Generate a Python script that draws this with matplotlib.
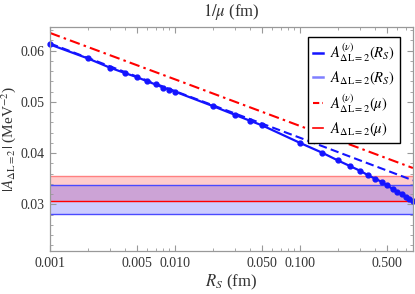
"""
|A_{dL=2}| versus the short-distance cutoff R_S (and 1/mu on the top axis),
with the mu-scheme reference bands.
"""
import numpy as np, matplotlib
matplotlib.use("Agg")
import matplotlib.pyplot as plt
from matplotlib.lines import Line2D
from matplotlib.ticker import FixedLocator, NullFormatter

plt.rcParams["font.family"] = ["Liberation Serif", "DejaVu Serif"]
plt.rcParams["mathtext.fontset"] = "stix"

BLUE, LBLUE, RED = "#1414ff", "#7f7fff", "#ff0000"

# A^(nu)(R_S): computed points (fm, MeV^-2)
rs_points = [0.001, 0.002, 0.003, 0.004, 0.005, 0.006, 0.007, 0.008, 0.009, 0.010,
             0.02, 0.03, 0.04, 0.05, 0.10, 0.15, 0.20, 0.25, 0.30, 0.35, 0.40,
             0.45, 0.50, 0.55, 0.60, 0.65, 0.70, 0.75, 0.80]
a_nu_rs = [0.0612, 0.0585, 0.0567, 0.0556, 0.0548, 0.0540, 0.0534, 0.0528, 0.0524, 0.0520,
           0.0492, 0.0475, 0.0463, 0.0454, 0.0420, 0.0401, 0.0386, 0.0375, 0.0366, 0.0357,
           0.0350, 0.0344, 0.0337, 0.0330, 0.0325, 0.0320, 0.0315, 0.0311, 0.0307]

# A(R_S) without the nu correction (dashed)
rs_line = [0.001, 0.01, 0.1, 0.8]
a_rs = [0.0614, 0.0521, 0.0430, 0.0347]

# A^(nu)(mu) (dash-dot)
mu_line = [0.001, 0.01, 0.1, 0.8]
a_nu_mu = [0.06345, 0.0544, 0.0453, 0.0371]

# bands (MeV^-2)
band_red = (0.0307, 0.0355)
band_blue = (0.02805, 0.0338)

fig = plt.figure(figsize=(4.15, 2.94), dpi=100)
ax = fig.add_axes([0.1205, 0.146, 0.8745, 0.762])
ax.set_xscale("log")
ax.set_xlim(0.001, 0.8)
ax.set_ylim(0.0209, 0.0646)

ax.axhspan(*band_red, color=RED, alpha=0.2, lw=0)
ax.axhspan(*band_blue, color="#0000ff", alpha=0.2, lw=0)
ax.axhline(band_red[1], color="#ff8080", lw=1.0)
ax.axhline(band_red[0], color=RED, lw=1.0)
ax.axhline(band_blue[0], color="#4a4aff", lw=1.0)
ax.axhline(band_blue[1], color="#4a4aff", lw=1.0)

ax.plot(mu_line, a_nu_mu, color=RED, lw=1.5, dashes=(5, 2, 1.2, 2))
ax.plot(rs_line, a_rs, color=BLUE, lw=1.5, dashes=(4, 2))
ax.plot(rs_points, a_nu_rs, color=BLUE, lw=1.6, marker="o", ms=3.5, clip_on=False)

# ticks
majors = [0.001, 0.005, 0.01, 0.05, 0.1, 0.5]
minors = [m * 10.0**e for e in (-3, -2, -1) for m in range(2, 10)
          if m != 5 and m * 10.0**e <= 0.8]
ax.xaxis.set_major_locator(FixedLocator(majors))
ax.xaxis.set_minor_locator(FixedLocator(minors))
ax.set_xticklabels(["0.001", "0.005", "0.010", "0.050", "0.100", "0.500"])
ax.xaxis.set_minor_formatter(NullFormatter())
ax.set_yticks([0.03, 0.04, 0.05, 0.06])
ax.set_yticklabels(["0.03", "0.04", "0.05", "0.06"])
ax.yaxis.set_minor_locator(FixedLocator(np.arange(0.022, 0.0646, 0.002)))
ax.tick_params(which="both", direction="in", top=True, right=True,
               color="#999999", labelsize=10, labelcolor="#333333", pad=4)
ax.tick_params(which="major", length=4.5, width=0.8)
ax.tick_params(which="minor", length=2.5, width=0.6)
for s in ax.spines.values():
    s.set_color("#999999")
    s.set_linewidth(0.9)

ax.set_xlabel(r"$R_S$ (fm)", fontsize=12, color="#333333", labelpad=2)
ax.set_ylabel(r"$|A_{\Delta\mathrm{L}=2}|$ (MeV$^{-2}$)", fontsize=11,
              color="#333333")
ax.yaxis.set_label_coords(-0.088, 0.5)
ax.set_title(r"$1/\mu$ (fm)", fontsize=12, color="#333333", pad=8)

handles = [Line2D([], [], color=BLUE, lw=1.8),
           Line2D([], [], color=LBLUE, lw=1.8),
           Line2D([], [], color=RED, lw=1.5, dashes=(3, 1.5, 1, 1.5)),
           Line2D([], [], color=RED, lw=1.2)]
labels = [r"$A^{(\nu)}_{\Delta\mathrm{L}=2}(R_S)$",
          r"$A_{\Delta\mathrm{L}=2}(R_S)$",
          r"$A^{(\nu)}_{\Delta\mathrm{L}=2}(\mu)$",
          r"$A_{\Delta\mathrm{L}=2}(\mu)$"]
leg = ax.legend(handles, labels, loc="upper right", fontsize=10.5, frameon=True,
                fancybox=False, edgecolor="black", framealpha=1,
                handlelength=0.7, handletextpad=0.5, borderpad=0.35,
                labelspacing=0.35, bbox_to_anchor=(0.985, 0.99))
leg.get_frame().set_linewidth(1.0)

plt.savefig("out.png", dpi=100)
plt.close()
